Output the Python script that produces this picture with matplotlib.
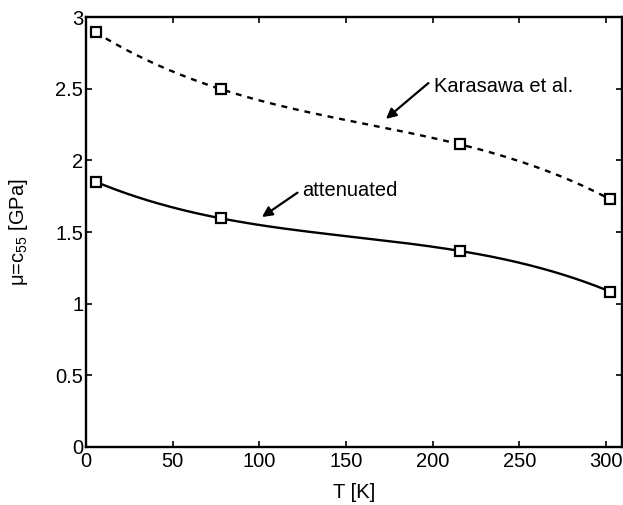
import numpy as np
import matplotlib
matplotlib.use("Agg")
import matplotlib.pyplot as plt

plt.rcParams["font.family"] = ["Liberation Sans", "DejaVu Sans"]
plt.rcParams["mathtext.fontset"] = "custom"
plt.rcParams["mathtext.rm"] = "Liberation Sans"
plt.rcParams["mathtext.it"] = "Liberation Sans"

# temperatures [K] and shear modulus [GPa]
temps = [5.6, 77.7, 215.8, 302.4]
karasawa = [2.894, 2.498, 2.112, 1.728]
attenuated = [1.851, 1.596, 1.368, 1.084]

xticks = [0, 50, 100, 150, 200, 250, 300]
yticks = [0, 0.5, 1, 1.5, 2, 2.5, 3]
fs = 14.5

fig = plt.figure(figsize=(6.23, 5.05), dpi=100)
ax = fig.add_axes([0.138, 0.115, 0.86, 0.851])

# smooth curves through the measured points
tt = np.linspace(temps[0], temps[-1], 200)
k_fit = np.polyval(np.polyfit(temps, karasawa, 3), tt)
a_fit = np.polyval(np.polyfit(temps, attenuated, 3), tt)

ax.plot(tt, k_fit, color="black", lw=1.7, ls=(0, (2.5, 2.5)))
ax.plot(tt, a_fit, color="black", lw=1.7)
ax.plot(temps, karasawa, ls="none", marker="s", ms=7, mfc="white", mec="black", mew=1.6)
ax.plot(temps, attenuated, ls="none", marker="s", ms=7, mfc="white", mec="black", mew=1.6)

arrow = dict(arrowstyle="-|>", color="black", lw=1.6, mutation_scale=15, shrinkA=0, shrinkB=0)
ax.annotate("", xy=(173, 2.29), xytext=(197.5, 2.54), arrowprops=arrow)
ax.text(200.5, 2.515, "Karasawa et al.", fontsize=fs, va="center", ha="left")
ax.annotate("", xy=(101.5, 1.605), xytext=(122, 1.775), arrowprops=arrow)
ax.text(124.5, 1.79, "attenuated", fontsize=fs, va="center", ha="left")

ax.set_xlim(0, 309)
ax.set_ylim(0, 3)
ax.set_xticks(xticks)
ax.set_yticks(yticks)
ax.set_yticklabels(["0", "0.5", "1", "1.5", "2", "2.5", "3"])
ax.tick_params(direction="in", top=True, right=True, labelsize=fs, length=4, width=1.2)
ax.tick_params(axis="x", pad=4)
ax.tick_params(axis="y", pad=2)
for s in ax.spines.values():
    s.set_linewidth(1.7)

ax.set_xlabel("T [K]", fontsize=fs)
ax.set_ylabel(r"μ=c$_{55}$ [GPa]", fontsize=fs)
ax.xaxis.set_label_coords(0.5, -0.083)
ax.yaxis.set_label_coords(-0.105, 0.5)

fig.savefig("out.png", dpi=100)
